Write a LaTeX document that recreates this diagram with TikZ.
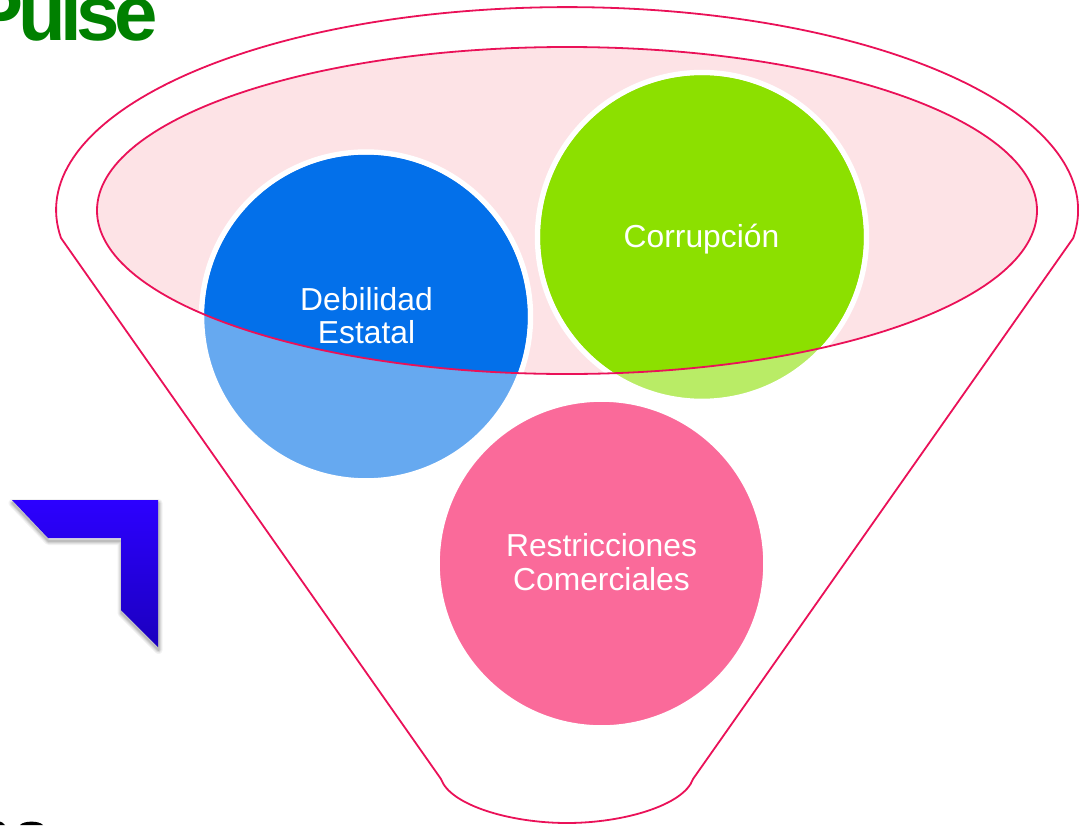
\documentclass[tikz,border=0pt]{standalone}
\usepackage{fontspec}
\setmainfont{Liberation Sans}
\newfontfamily\pulsefont[LetterSpace=-7,BoldFont={Liberation Sans Bold}]{Liberation Sans}
\definecolor{funnelline}{HTML}{EA1158}
\definecolor{funnelfill}{HTML}{FDE3E6}
\definecolor{bluestrong}{HTML}{0370EA}
\definecolor{bluelight}{HTML}{66A9F0}
\definecolor{greenstrong}{HTML}{8CE000}
\definecolor{greenlight}{HTML}{B9EC66}
\definecolor{pinkdisc}{HTML}{FA6A9A}
\definecolor{pulsegreen}{HTML}{008000}
\definecolor{cornertop}{HTML}{2C00FF}
\definecolor{cornerbot}{HTML}{1B00BE}
\tikzset{
  funnelstroke/.style={draw=funnelline,line width=1.8pt},
  disc/.style={circle,draw=white,line width=5.5pt,inner sep=0pt,minimum size=328.9pt},
  disclabel/.style={text=white,font=\fontsize{31.8}{33.5}\selectfont,align=center,inner sep=0pt},
  cornerpath/.style={line join=miter}
}
\begin{document}
\begin{tikzpicture}[x=1pt,y=1pt]
\useasboundingbox (0,0) rectangle (1090,-825);
\begin{scope}
\clip (0,0) rectangle (1090,-825);
% Cropped title
\node[anchor=base east,inner sep=0pt,text=pulsegreen,font=\pulsefont\bfseries\fontsize{78}{78}\selectfont] (pulse) at (158,-40.5) {Pulse};
% Cropped dark fragments on the lower edge
\fill[black] (20,-825) .. controls (24,-820.5) and (39,-820.5) .. (43,-825) -- cycle;
\fill[black] (0,-821.5) .. controls (2,-822) and (4,-823.5) .. (5,-825) -- (0,-825) -- cycle;
% Corner arrow with soft shadow
\foreach \w/\o in {8/0.05,6/0.06,4/0.08,2/0.1}{
  \draw[black,opacity=\o,fill=none,line width=\w pt,line join=round,xshift=0.5pt,yshift=-3pt]
    (12,-500) -- (158,-500) -- (158,-647) -- (121,-610) -- (121,-538) -- (48,-538) -- cycle;
}
\shade[top color=cornertop,bottom color=cornerbot,cornerpath]
  (12,-500) -- (158,-500) -- (158,-647) -- (121,-610) -- (121,-538) -- (48,-538) -- cycle;
% Funnel outline
\draw[funnelstroke,line join=round] (61,-238)
  arc[start angle=187.9,end angle=-7.9,x radius=511,y radius=203]
  -- (693,-779) .. controls (684,-805) and (624,-823) .. (567,-823)
  .. controls (510,-823) and (450,-805) .. (441,-779) -- cycle;
% Inner ellipse
\fill[funnelfill] (567,-210.5) ellipse[x radius=470,y radius=163.5];
% Discs
\node[disc,fill=bluelight] (deb) at (366,-316.5) {};
\node[disc,fill=greenlight] (cor) at (702,-237) {};
\node[disc,fill=pinkdisc] (res) at (601.5,-563.5) {};
\begin{scope}
\clip (567,-210.5) ellipse[x radius=470,y radius=163.5];
\fill[bluestrong] (deb.center) circle[radius=161.7];
\fill[greenstrong] (cor.center) circle[radius=161.7];
\end{scope}
\draw[funnelstroke] (567,-210.5) ellipse[x radius=470,y radius=163.5];
% Labels
\node[disclabel] (debt) at (366.5,-315.5) {Debilidad\\Estatal};
\node[disclabel] (cort) at (701.5,-239.5) {Corrupción};
\node[disclabel] (rest) at (601.5,-562) {Restricciones\\Comerciales};
\end{scope}
\end{tikzpicture}
\end{document}
